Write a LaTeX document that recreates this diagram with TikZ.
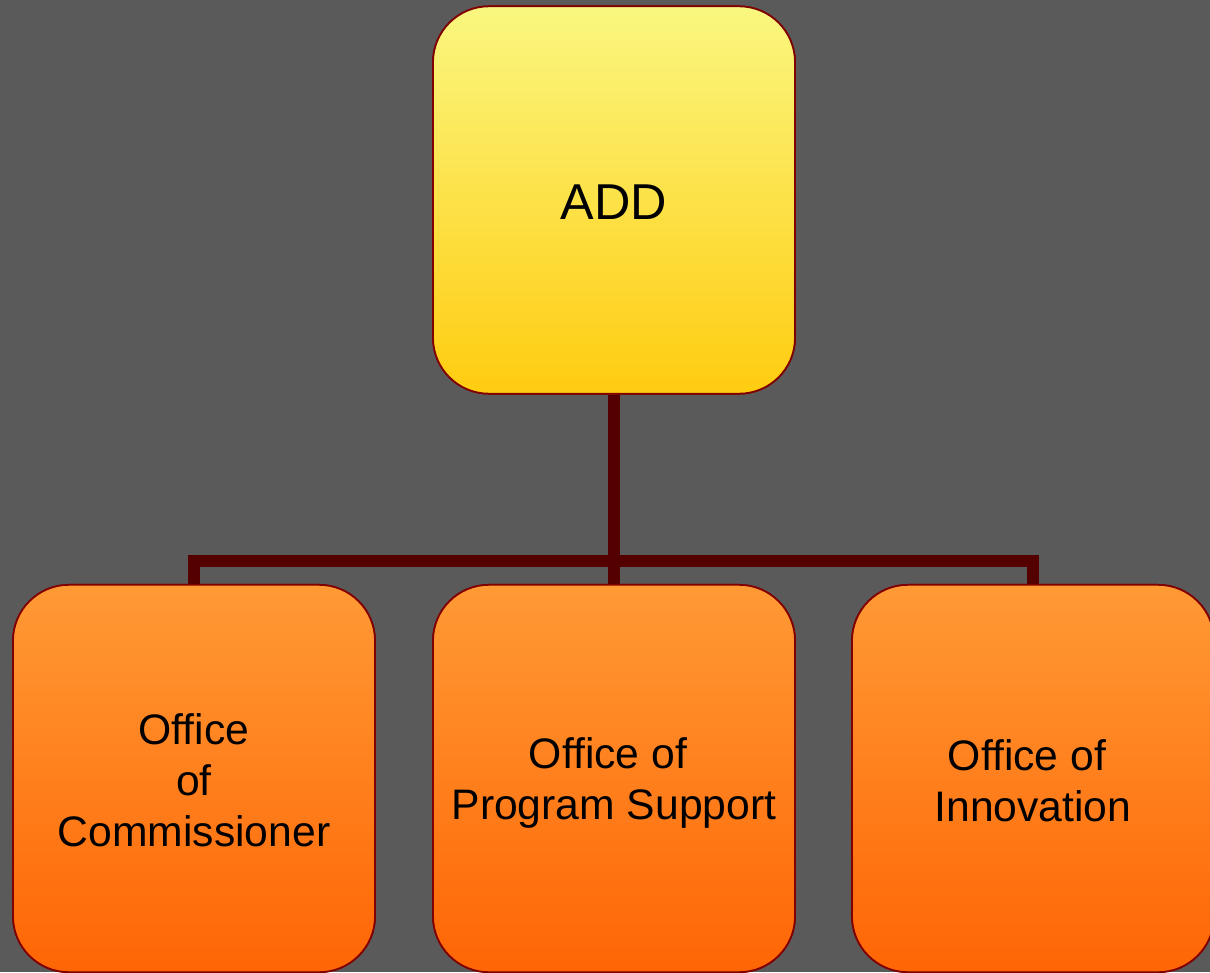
\documentclass[tikz,border=0pt]{standalone}
\usepackage{fontspec}
\setmainfont{Liberation Sans}
\definecolor{bg}{HTML}{5A5A5A}
\definecolor{edge}{HTML}{800000}
\definecolor{conn}{HTML}{550000}
\definecolor{ytop}{HTML}{FAF780}
\definecolor{ybot}{HTML}{FFCC10}
\definecolor{otop}{HTML}{FF9A35}
\definecolor{obot}{HTML}{FF6505}
\newcommand{\tsp}{\hspace*{0.28em}}
\begin{document}
\begin{tikzpicture}[x=0.75pt,y=-0.75pt,
  box/.style={draw=edge,line width=1.3pt,rounded corners=42pt,inner sep=0pt,
    minimum width=271.5pt,minimum height=290.5pt},
  topbox/.style={box,top color=ytop,bottom color=ybot},
  subbox/.style={box,top color=otop,bottom color=obot},
  toplabel/.style={align=center,text=black,font=\fontsize{37.8}{45}\selectfont},
  sublabel/.style={align=center,text=black,font=\fontsize{32}{38.3}\selectfont},
  connector/.style={draw=conn,line width=9pt}]
\useasboundingbox (0,0) rectangle (1210,972);
\fill[bg] (0,0) rectangle (1210,972);
\clip (0,0) rectangle (1210,972);
\node[topbox] (add) at (614,200) {};
\node[subbox] (p1) at (194,778.5) {};
\node[subbox] (p2) at (614,778.5) {};
\node[subbox] (p3) at (1033,778.5) {};
\draw[connector] (add.south) -- (p2.north);
\draw[connector] (p1.north) -- ++(0,-23) -| (p3.north);
\node[topbox] at (add) {};
\node[subbox] at (p1) {};
\node[subbox] at (p2) {};
\node[subbox] at (p3) {};
\node[toplabel] (tadd) at ([yshift=-1.5pt]add.center) {ADD};
\node[sublabel] (t1) at ([yshift=-1.5pt]p1.center) {Office\\of\tsp\\Commissioner};
\node[sublabel] (t2) at ([yshift=-3.5pt]p2.center) {Office of\tsp\\Program Support};
\node[sublabel] (t3) at ([yshift=-2pt]p3.center) {Office of\tsp\\Innovation};
\end{tikzpicture}
\end{document}
